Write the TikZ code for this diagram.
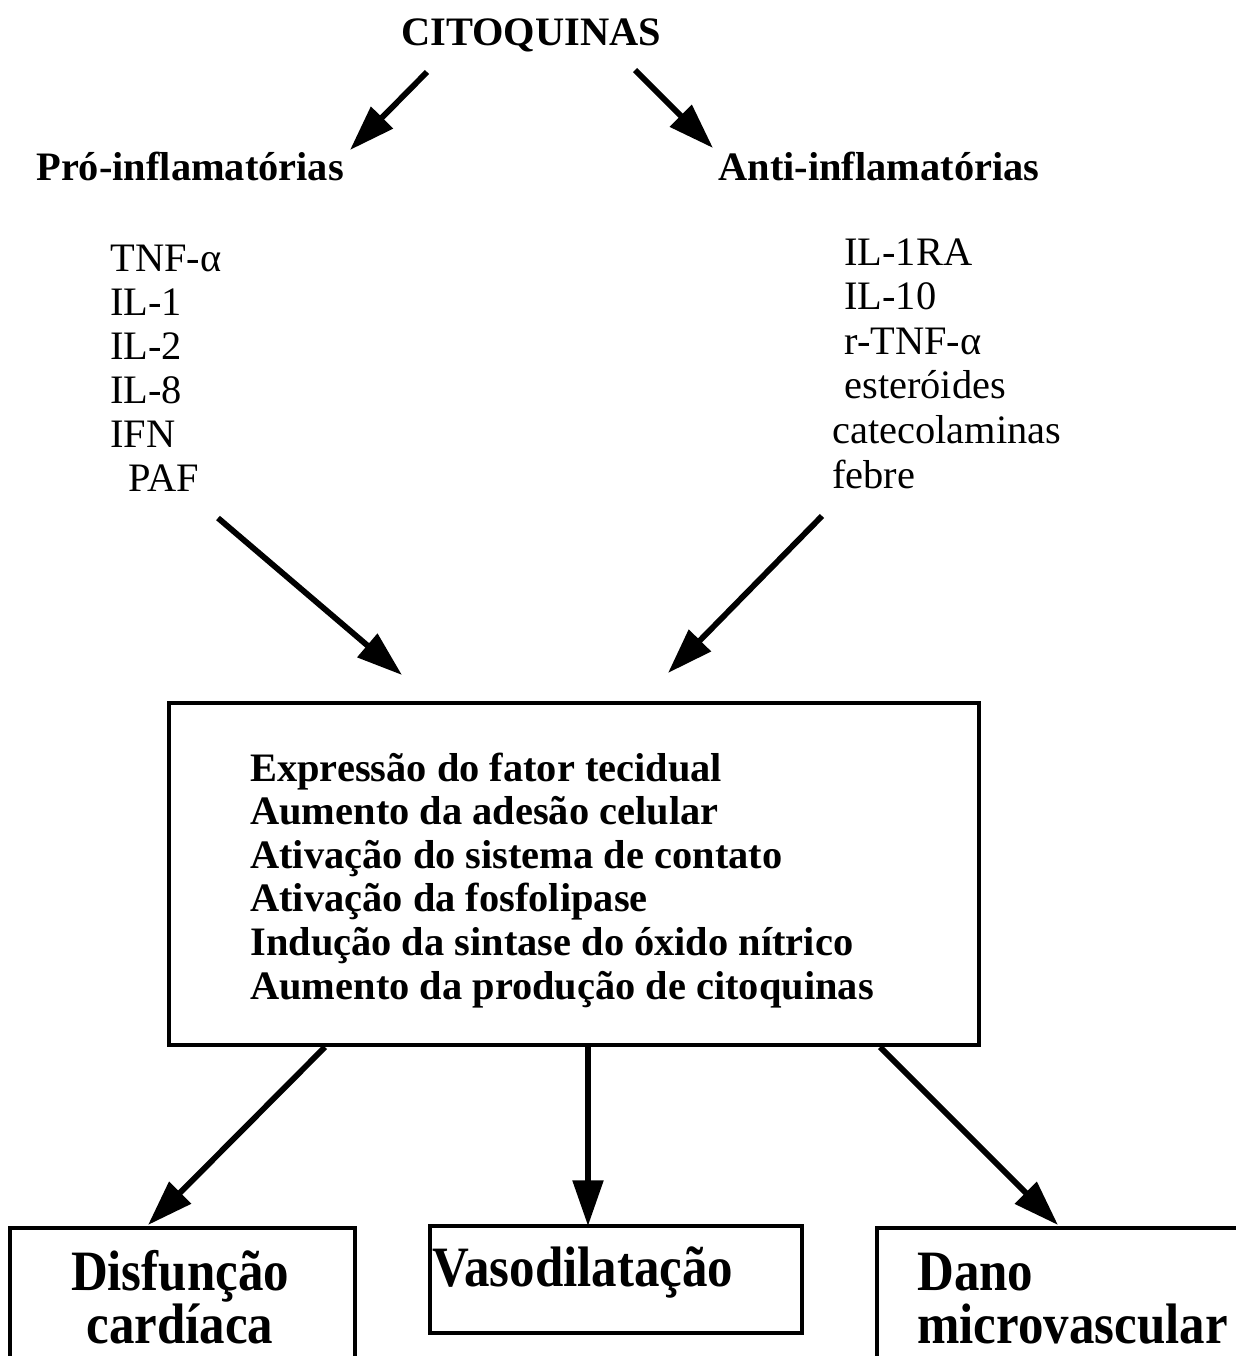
\documentclass[tikz,border=0pt]{standalone}
\usepackage{fontspec}
\setmainfont{Liberation Serif}
\usepackage{tikz}
\usetikzlibrary{arrows.meta}
\tikzset{
  heading/.style={font=\bfseries\fontsize{23}{26}\selectfont,inner sep=0pt,anchor=base west},
  cyto/.style={font=\fontsize{23}{26}\selectfont,inner sep=0pt,anchor=base west},
  effect/.style={font=\bfseries\fontsize{23}{26}\selectfont,inner sep=0pt,anchor=base west},
  outcome/.style={font=\bfseries\fontsize{29}{34}\selectfont,inner sep=0pt,anchor=base west},
  frame/.style={draw,line width=2.3pt,inner sep=0pt},
  outframe/.style={frame,line width=2.7pt},
  every edge/.style={draw,-{Triangle[length=26pt,width=17pt]},line width=3.3pt},
}
\newcommand{\tallbf}[1]{\scalebox{1}[1.12]{#1}}

\begin{document}
\begin{tikzpicture}[x=0.02cm,y=-0.02cm]
\useasboundingbox (0,0) rectangle (1236,1356);
\clip (0,0) rectangle (1236,1356);

\node[heading,anchor=base] (cit) at (531,45) {CITOQUINAS};
\node[heading] (pro) at (36,180) {Pró-inflamatórias};
\node[heading] (anti) at (718,180) {Anti-inflamatórias};

\foreach \t/\dx [count=\i] in {TNF-α/0,IL-1/0,IL-2/0,IL-8/0,IFN/0,PAF/18}
  \node[cyto] (p\i) at ({110+\dx},{271+44*(\i-1)}) {\t};
\foreach \t/\dx [count=\i] in {IL-1RA/12,IL-10/12,r-TNF-α/12,esteróides/12,catecolaminas/0,febre/0}
  \node[cyto] (a\i) at ({832+\dx},{265+44.6*(\i-1)}) {\t};

\node[frame,minimum width=16.2cm,minimum height=6.84cm] (fx) at (574,874) {};
\foreach \t [count=\i] in {Expressão do fator tecidual,Aumento da adesão celular,
  Ativação do sistema de contato,Ativação da fosfolipase,
  Indução da sintase do óxido nítrico,Aumento da produção de citoquinas}
  \node[effect] (e\i) at (250,{781+43.6*(\i-1)}) {\t};

\node[outframe,minimum width=6.9cm,minimum height=3.04cm] (card) at (182.5,1304) {};
\node[outframe,minimum width=7.44cm,minimum height=2.14cm] (vaso) at (616,1279.5) {};
\node[outframe,minimum width=7.66cm,minimum height=3.04cm] (micro) at (1068.5,1304) {};
\node[outcome,anchor=base] (card1) at (180,1290) {\tallbf{Disfunção}};
\node[outcome,anchor=base] (card2) at (180,1343) {\tallbf{cardíaca}};
\node[outcome] (vaso1) at (432,1286) {\tallbf{Vasodilatação}};
\node[outcome] (micro1) at (917,1290) {\tallbf{Dano}};
\node[outcome] (micro2) at (917,1343) {\tallbf{microvascular}};

\coordinate (citL) at (427,72);
\coordinate (proTip) at (350,150);
\coordinate (citR) at (635,70);
\coordinate (antiTip) at (713,148);
\coordinate (proOut) at (218,518);
\coordinate (fxInL) at (402,675);
\coordinate (antiOut) at (822,516);
\coordinate (fxInR) at (668,673);
\coordinate (fxOutL) at (325,1047);
\coordinate (cardIn) at (148,1225);
\coordinate (fxOutM) at (588,1047);
\coordinate (vasoIn) at (588,1226);
\coordinate (fxOutR) at (880,1047);
\coordinate (microIn) at (1058,1225);

\path
(citL) edge (proTip)
(citR) edge (antiTip)
(proOut) edge (fxInL)
(antiOut) edge (fxInR)
(fxOutL) edge (cardIn)
(fxOutM) edge (vasoIn)
(fxOutR) edge (microIn);

\end{tikzpicture}
\end{document}
